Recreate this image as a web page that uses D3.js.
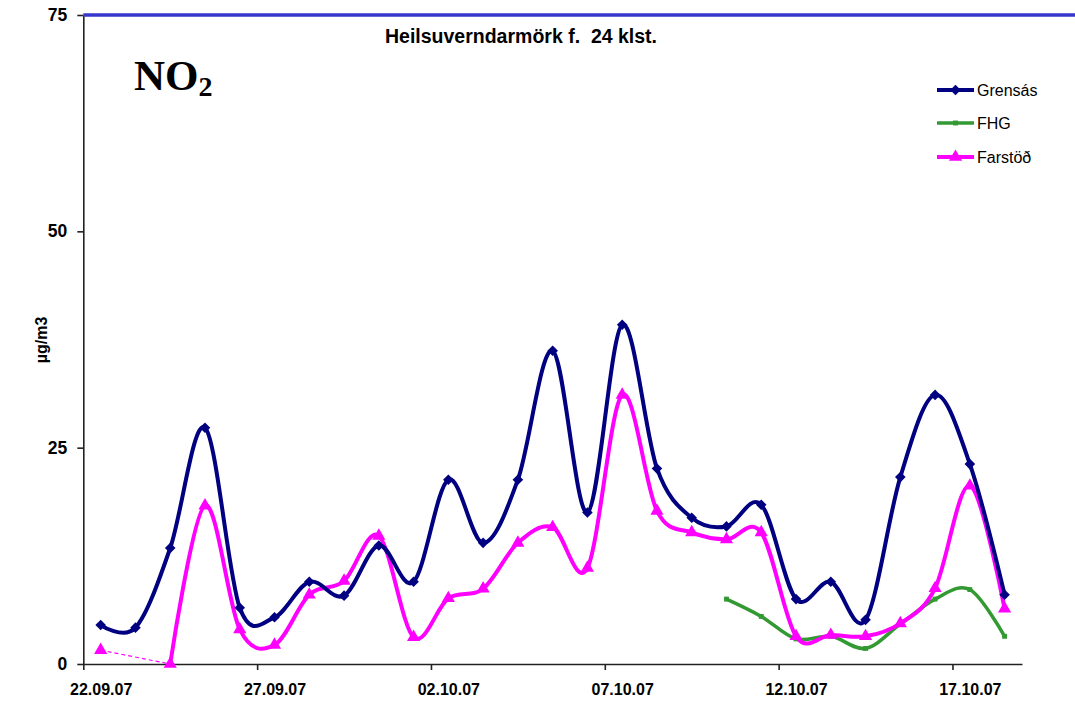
<!DOCTYPE html>
<html>
<head>
<meta charset="utf-8">
<script src="https://cdn.jsdelivr.net/npm/d3@7"></script>
<style>
  body { margin: 0; background: #fff; }
  text { font-family: "Liberation Sans", Arial, sans-serif; }
</style>
</head>
<body>
<svg width="1075" height="702"></svg>
<script>

// days of the measurement period
var DAYS = ["2007-09-22","2007-09-23","2007-09-24","2007-09-25","2007-09-26","2007-09-27",
	    "2007-09-28","2007-09-29","2007-09-30","2007-10-01","2007-10-02","2007-10-03",
	    "2007-10-04","2007-10-05","2007-10-06","2007-10-07","2007-10-08","2007-10-09",
	    "2007-10-10","2007-10-11","2007-10-12","2007-10-13","2007-10-14","2007-10-15",
	    "2007-10-16","2007-10-17","2007-10-18"];

var GRENSAS = [4.5, 4.2, 13.4, 27.3, 6.5, 5.4, 9.5, 7.9, 13.7, 9.5, 21.3, 14.0, 21.3, 36.2,
	       17.5, 39.2, 22.6, 16.9, 15.9, 18.4, 7.5, 9.5, 5.1, 21.6, 31.1, 23.1, 8.0];

var FHG = [null, null, null, null, null, null, null, null, null, null, null, null, null, null,
	   null, null, null, null, 7.5, 5.5, 2.9, 3.2, 1.8, 4.6, 7.5, 8.6, 3.2];

var FARSTOD = [1.6, null, 0, 18.3, 4.0, 2.2, 8.0, 9.6, 14.8, 3.1, 7.6, 8.7, 14.0, 15.8,
	       11.1, 31.1, 17.7, 15.2, 14.4, 15.2, 3.2, 3.35, 3.2, 4.7, 8.75, 20.6, 6.4];

var XTICKS  = ["2007-09-22","2007-09-27","2007-10-02","2007-10-07","2007-10-12","2007-10-17"];
var XLABELS = ["22.09.07","27.09.07","02.10.07","07.10.07","12.10.07","17.10.07"];
var YTICKS  = [0, 25, 50, 75];

var LIMIT = 75;   // heilsuverndarmörk


var svg = d3.select("svg");
var plotleft = 83.3, plotright = 1022, plottop = 15, plotbottom = 664;
var DAY = 86400000;

var parse = d3.utcParse("%Y-%m-%d");

var xScale = d3.scaleUtc()
    .domain([parse(DAYS[0]), new Date(parse(DAYS[DAYS.length - 1]).getTime() + DAY)])
    .range([plotleft, plotright]);
var yScale = d3.scaleLinear()
    .domain([0, 75])
    .range([plotbottom, plottop]);

function xmid(k) {
    return xScale(new Date(parse(DAYS[k]).getTime() + DAY / 2));
}
var halfday = xScale(new Date(parse(DAYS[0]).getTime() + DAY / 2)) - xScale(parse(DAYS[0]));

// axes
var yAxis = d3.axisLeft(yScale).tickValues(YTICKS).tickSize(6).tickSizeOuter(0).tickPadding(10);
var gy = svg.append("g")
    .attr("transform", "translate(" + plotleft + ",0)")
    .call(yAxis);
gy.selectAll("text")
    .style("font-size", "17.5px")
    .style("font-weight", "bold")
    .attr("fill", "#000");

var xAxis = d3.axisBottom(xScale)
    .tickValues(XTICKS.map(parse))
    .tickFormat(function(d, i) { return XLABELS[i]; })
    .tickSize(6).tickSizeOuter(0).tickPadding(14);
var gx = svg.append("g")
    .attr("transform", "translate(0," + plotbottom + ")")
    .call(xAxis);
gx.selectAll("text")
    .attr("x", halfday)
    .style("font-size", "16px")
    .style("font-weight", "bold")
    .attr("fill", "#000");

svg.selectAll(".domain, .tick line").attr("stroke", "#222").attr("stroke-width", 1.6);

// limit line on top
svg.append("line")
    .attr("x1", plotleft).attr("x2", 1075)
    .attr("y1", yScale(LIMIT)).attr("y2", yScale(LIMIT))
    .attr("stroke", "#3636cc")
    .attr("stroke-width", 3.5);

svg.append("text")
    .attr("x", 521).attr("y", 43)
    .attr("text-anchor", "middle")
    .style("font-size", "19.5px")
    .style("font-weight", "bold")
    .attr("xml:space", "preserve")
    .text("Heilsuverndarmörk f.  24 klst.");

var no2 = svg.append("text")
    .attr("x", 134).attr("y", 90)
    .style("font-family", "'Liberation Serif', 'Times New Roman', serif")
    .style("font-size", "43px")
    .style("font-weight", "bold");
no2.append("tspan").text("NO");
no2.append("tspan").attr("dy", 6).style("font-size", "28px").text("2");

svg.append("text")
    .attr("transform", "translate(47,340) rotate(-90)")
    .attr("text-anchor", "middle")
    .style("font-size", "16px")
    .style("font-weight", "bold")
    .text("µg/m3");


// series
var diamond  = d3.symbol().type(d3.symbolSquare).size(56);
var triangle = d3.symbol().type(d3.symbolTriangle).size(75);
var square   = d3.symbol().type(d3.symbolSquare).size(24);

function drawseries(values, color, width, shape, rot, from) {

    var pts = [];
    for(var kk = from; kk < values.length; kk++) {
	if(values[kk] != null) {
	    pts.push([xmid(kk), yScale(values[kk])]);
	}
    }
    var line = d3.line().curve(d3.curveCardinal.tension(0));

    svg.append("path")
	.attr("d", line(pts))
	.attr("fill", "none")
	.attr("stroke", color)
	.attr("stroke-width", width)
	.attr("stroke-linejoin", "round");

    svg.append("g").selectAll("path")
	.data(pts)
	.enter()
	.append("path")
	.attr("d", shape)
	.attr("transform", function(d) { return "translate(" + d[0] + "," + d[1] + ") rotate(" + rot + ")"; })
	.attr("fill", color);
}

// Farstöð has a missing day at the start, bridged by a dashed line
svg.append("line")
    .attr("x1", xmid(0)).attr("y1", yScale(FARSTOD[0]))
    .attr("x2", xmid(2)).attr("y2", yScale(FARSTOD[2]))
    .attr("stroke", "#ff00ff")
    .attr("stroke-width", 1.2)
    .attr("stroke-dasharray", "4,3");
svg.append("path")
    .attr("d", triangle)
    .attr("transform", "translate(" + xmid(0) + "," + yScale(FARSTOD[0]) + ")")
    .attr("fill", "#ff00ff");

drawseries(FHG, "#339933", 3.5, square, 0, 0);
drawseries(FARSTOD, "#ff00ff", 4, triangle, 0, 2);
drawseries(GRENSAS, "#000080", 4, diamond, 45, 0);


// legend
var legend = [["Grensás", "#000080", diamond, 4, 45], ["FHG", "#339933", square, 3.5, 0], ["Farstöð", "#ff00ff", triangle, 4, 0]];
var ly = [90, 123, 157];

for(var kk = 0; kk < legend.length; kk++) {
    svg.append("line")
	.attr("x1", 937).attr("x2", 974)
	.attr("y1", ly[kk]).attr("y2", ly[kk])
	.attr("stroke", legend[kk][1])
	.attr("stroke-width", legend[kk][3]);
    svg.append("path")
	.attr("d", legend[kk][2])
	.attr("transform", "translate(955.5," + ly[kk] + ") rotate(" + legend[kk][4] + ")")
	.attr("fill", legend[kk][1]);
    svg.append("text")
	.attr("x", 977).attr("y", ly[kk] + 6)
	.style("font-size", "16px")
	.text(legend[kk][0]);
}

</script>
</body>
</html>
